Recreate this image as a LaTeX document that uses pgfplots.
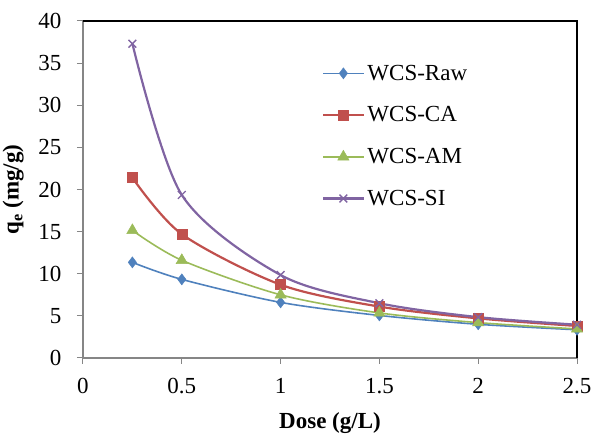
\documentclass[border=0pt]{standalone}
\usepackage{pgfplots}
\pgfplotsset{compat=1.18}
\usepackage{fontspec}
\setmainfont{Liberation Serif}
\definecolor{cRaw}{HTML}{4F81BD}
\definecolor{cCA}{HTML}{C0504D}
\definecolor{cAM}{HTML}{9BBB59}
\definecolor{cSI}{HTML}{8064A2}
\definecolor{axgrey}{HTML}{868686}
\begin{document}
\begin{tikzpicture}
\useasboundingbox (-83pt,-77pt) rectangle (509pt,358pt);
\begin{axis}[
  anchor=south west, at={(0pt,0pt)},
  width=494pt, height=337pt, scale only axis,
  xmin=0, xmax=2.5, ymin=0, ymax=40,
  xtick={0,0.5,1,1.5,2,2.5},
  ytick={0,5,10,15,20,25,30,35,40},
  axis x line*=bottom, axis y line*=left,
  axis line style={draw=axgrey, line width=1.6pt, -},
  tick align=outside,
  major tick length=6pt,
  tick style={draw=axgrey, line width=1pt},
  /pgf/number format/assume math mode=true,
  ticklabel style={font=\fontsize{23}{27}\selectfont},
  xticklabel style={yshift=-11pt},
  yticklabel style={xshift=-12pt},
  xlabel={\textbf{Dose (g/L)}},
  ylabel={\textbf{q\textsubscript{e} (mg/g)}},
  label style={font=\fontsize{23}{27}\selectfont},
  xlabel style={yshift=-12pt},
  ylabel style={yshift=8pt},
  legend style={draw=none, fill=none, at={(0.484,0.879)}, anchor=north west,
    font=\fontsize{23}{27}\selectfont, row sep=19pt, inner sep=0pt,
    nodes={inner sep=3pt}},
  legend cell align=left,
  legend image code/.code={\draw[mark repeat=2,mark phase=2,#1] plot coordinates {(0pt,0pt) (20pt,0pt) (40pt,0pt)};},
  clip=false,
]
\addplot[color=cRaw, line width=1.6pt, smooth, mark=diamond*, mark size=5.5pt, mark options={fill=cRaw, line width=0.5pt}] coordinates {
 (0.25,11.35) (0.5,9.33) (1,6.6) (1.5,5.05) (2,4.0) (2.5,3.35)};
\addlegendentry{WCS-Raw}
\addplot[color=cCA, line width=2.2pt, smooth, mark=square*, mark size=5pt, mark options={fill=cCA, line width=0.5pt}] coordinates {
 (0.25,21.4) (0.5,14.7) (1,8.7) (1.5,6.1) (2,4.7) (2.5,3.8)};
\addlegendentry{WCS-CA}
\addplot[color=cAM, line width=1.6pt, smooth, mark=triangle*, mark size=6.5pt, mark options={fill=cAM, line width=0.5pt}] coordinates {
 (0.25,15.15) (0.5,11.6) (1,7.5) (1.5,5.35) (2,4.2) (2.5,3.45)};
\addlegendentry{WCS-AM}
\addplot[color=cSI, line width=2.2pt, smooth, mark=x, mark size=5.5pt, mark options={line width=1.3pt}] coordinates {
 (0.25,37.3) (0.5,19.35) (1,9.85) (1.5,6.5) (2,4.85) (2.5,3.95)};
\addlegendentry{WCS-SI}
\draw[black, line width=1.3pt] (rel axis cs:0,1) -- (rel axis cs:1,1) -- (rel axis cs:1,0);
\end{axis}
\end{tikzpicture}
\end{document}
